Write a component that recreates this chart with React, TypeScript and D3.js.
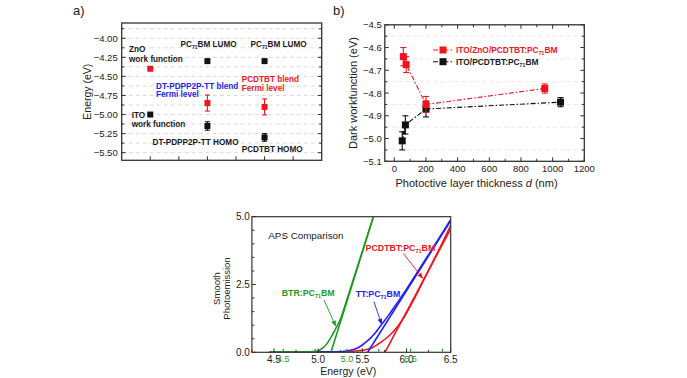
import React from 'react';
import * as d3 from 'd3';

const FONT = '"Liberation Sans", Arial, Helvetica, sans-serif';
const RED = '#f2141c';
const BLUE = '#2323f0';
const GREEN = '#1f9a1f';
const BLACK = '#111111';
const AXIS = '#333333';

// ---------- Panel a: energy levels ----------
const levelCols = [1, 1, 2, 3, 2, 3, 2, 3];
const levelVals = [-4.40, -5.00, -4.30, -4.30, -4.85, -4.90, -5.15, -5.30];
const levelErrs = [0, 0, 0, 0, 0.105, 0.105, 0.055, 0.05];
const levelIsFermi = [true, false, false, false, true, true, false, false];
const aYTicks = [-4.0, -4.25, -4.5, -4.75, -5.0, -5.25, -5.5];
const aGridVals = [-3.875, -4.0, -4.125, -4.25, -4.375, -4.5, -4.625, -4.75, -4.875, -5.0, -5.125, -5.25, -5.375, -5.5];
const aXTicks = [1, 1.5, 2, 2.5, 3, 3.5];

// ---------- Panel b: dark workfunction ----------
const znoThick = [57, 75, 200, 950];
const znoWf = [-4.64, -4.675, -4.85, -4.78];
const znoErr = [0.04, 0.035, 0.035, 0.02];
const itoThick = [50, 60, 70, 200, 1050];
const itoWf = [-5.01, -4.975, -4.94, -4.87, -4.84];
const itoErr = [0.04, 0, 0.04, 0.035, 0.02];
const bXTicks = [0, 200, 400, 600, 800, 1000, 1200];
const bYTicks = [-4.5, -4.6, -4.7, -4.8, -4.9, -5.0, -5.1];

// ---------- Panel c: APS comparison ----------
const btrE = [4.45, 4.9, 5.0, 5.05, 5.1, 5.15, 5.2, 5.25, 5.3, 5.4, 5.5, 5.63];
const btrP = [0.02, 0.02, 0.06, 0.15, 0.32, 0.58, 0.88, 1.2, 1.68, 2.7, 3.72, 5.05];
const btrFitE = [5.145, 5.63];
const btrFitP = [0, 5.05];
const ttE = [4.45, 5.2, 5.3, 5.4, 5.45, 5.5, 5.55, 5.6, 5.65, 5.7, 5.8, 5.9, 6.0, 6.2, 6.4, 6.5];
const ttP = [0.02, 0.02, 0.04, 0.1, 0.17, 0.27, 0.4, 0.55, 0.73, 0.95, 1.38, 1.85, 2.33, 3.35, 4.37, 4.9];
const ttFitE = [5.56, 6.5];
const ttFitP = [0, 4.85];
const pcdE = [4.45, 5.3, 5.4, 5.5, 5.6, 5.7, 5.8, 5.9, 6.0, 6.1, 6.2, 6.3, 6.4, 6.5];
const pcdP = [0.02, 0.02, 0.04, 0.07, 0.15, 0.35, 0.6, 0.95, 1.45, 2.05, 2.7, 3.35, 4.0, 4.68];
const pcdFitE = [5.756, 6.5];
const pcdFitP = [0, 4.55];
const cXTicks = [4.5, 5.0, 5.5, 6.0, 6.5];
const cYTicks = [0, 2.5, 5.0];
const greenTicks = [4.5, 5.0, 5.5];

function PC71(props: { pre?: string; post: string }) {
  return (
    <>
      <tspan>{(props.pre || '') + 'PC'}</tspan>
      <tspan dy={2} fontSize="0.62em">71</tspan>
      <tspan dy={-2}>{props.post}</tspan>
    </>
  );
}

function PanelA() {
  const x = d3.scaleLinear().domain([0.5, 4]).range([121.7, 321.7]);
  const y = d3.scaleLinear().domain([-5.6, -3.8]).range([160.3, 23]);
  const [x0, x1] = x.range();
  const [yb, yt] = y.range();
  const fmt = d3.format('.2f');
  const lab = { fontSize: 8.2, fontWeight: 700 as const };
  return (
    <g>
      {aGridVals.map((v) => (
        <line key={'g' + v} x1={x0} x2={x1} y1={y(v)} y2={y(v)} stroke="#cfcfcf" strokeWidth={0.8} strokeDasharray="4,3" />
      ))}
      <rect x={x0} y={yt} width={x1 - x0} height={yb - yt} fill="none" stroke={AXIS} strokeWidth={1.3} />
      {aGridVals.map((v) => {
        const major = aYTicks.includes(v);
        const l = major ? 4 : 2.5;
        return (
          <g key={'t' + v}>
            <line x1={x0} x2={x0 + l} y1={y(v)} y2={y(v)} stroke={AXIS} />
            <line x1={x1} x2={x1 - l} y1={y(v)} y2={y(v)} stroke={AXIS} />
          </g>
        );
      })}
      {aXTicks.map((v) => (
        <line key={'xt' + v} x1={x(v)} x2={x(v)} y1={yb} y2={yb - 4} stroke={AXIS} />
      ))}
      {aYTicks.map((v) => (
        <text key={'yl' + v} x={x0 - 4} y={y(v) + 3.5} fontSize={9.5} textAnchor="end" fill="#222">{fmt(v)}</text>
      ))}
      <text transform={`translate(${x0 - 31},${(yb + yt) / 2}) rotate(-90)`} fontSize={10.5} textAnchor="middle" fill="#222">Energy (eV)</text>
      <text x={73} y={15} fontSize={13} fill="#222">a)</text>
      {levelVals.map((v, i) => {
        const cx = x(levelCols[i]);
        const cy = y(v);
        const col = levelIsFermi[i] ? RED : BLACK;
        const e = levelErrs[i];
        return (
          <g key={'p' + i}>
            {e > 0 && (
              <g stroke={col} strokeWidth={1.1}>
                <line x1={cx} x2={cx} y1={y(v + e)} y2={y(v - e)} />
                <line x1={cx - 2.5} x2={cx + 2.5} y1={y(v + e)} y2={y(v + e)} />
                <line x1={cx - 2.5} x2={cx + 2.5} y1={y(v - e)} y2={y(v - e)} />
              </g>
            )}
            <rect x={cx - 3} y={cy - 3} width={6} height={6} fill={col} />
          </g>
        );
      })}
      <g {...lab} fill="#1a1a1a">
        <text x={x(0.628)} y={y(-4.18)}>ZnO</text>
        <text x={x(0.628)} y={y(-4.31)}>work function</text>
        <text x={x(0.675)} y={y(-5.04)}>ITO</text>
        <text x={x(0.675)} y={y(-5.165)}>work function</text>
        <text x={x(1.04)} y={y(-5.405)}>DT-PDPP2P-TT HOMO</text>
        <text x={x(2.6)} y={y(-5.495)}>PCDTBT HOMO</text>
        <text x={x(1.53)} y={y(-4.11)}><PC71 post="BM LUMO" /></text>
        <text x={x(2.755)} y={y(-4.11)}><PC71 post="BM LUMO" /></text>
      </g>
      <g {...lab} fill={BLUE}>
        <text x={x(1.1)} y={y(-4.665)}>DT-PDPP2P-TT blend</text>
        <text x={x(1.1)} y={y(-4.775)}>Fermi level</text>
      </g>
      <g {...lab} fill={RED}>
        <text x={x(2.6)} y={y(-4.575)}>PCDTBT blend</text>
        <text x={x(2.6)} y={y(-4.685)}>Fermi level</text>
      </g>
    </g>
  );
}

function Series(props: { xs: number[]; ys: number[]; es: number[]; x: any; y: any; color: string }) {
  const { xs, ys, es, x, y, color } = props;
  const line = d3.line<number>().x((_, i) => x(xs[i])).y((v) => y(v));
  return (
    <g>
      <path d={line(ys) || ''} fill="none" stroke={color} strokeWidth={1.1} strokeDasharray="5,2,1.5,2" />
      {ys.map((v, i) => {
        const cx = x(xs[i]);
        const cy = y(v);
        const e = es[i];
        const s = e > 0 ? 7 : 3;
        return (
          <g key={i}>
            {e > 0 && (
              <g stroke={color} strokeWidth={1.1}>
                <line x1={cx} x2={cx} y1={y(v + e)} y2={y(v - e)} />
                <line x1={cx - 3} x2={cx + 3} y1={y(v + e)} y2={y(v + e)} />
                <line x1={cx - 3} x2={cx + 3} y1={y(v - e)} y2={y(v - e)} />
              </g>
            )}
            <rect x={cx - s / 2} y={cy - s / 2} width={s} height={s} fill={color} />
          </g>
        );
      })}
    </g>
  );
}

function PanelB() {
  const x = d3.scaleLinear().domain([-60, 1200]).range([384.8, 584.3]);
  const y = d3.scaleLinear().domain([-5.1, -4.5]).range([161.3, 24.8]);
  const [x0, x1] = x.range();
  const [yb, yt] = y.range();
  const minorY = d3.range(0, 13).map((i) => -5.1 + i * 0.05);
  const minorX = d3.range(0, 13).map((i) => i * 100);
  return (
    <g>
      {minorY.map((v, i) => i % 2 === 1 && (
        <line key={'g' + i} x1={x0} x2={x1} y1={y(v)} y2={y(v)} stroke="#e2e2e2" strokeWidth={0.8} strokeDasharray="4,3" />
      ))}
      <rect x={x0} y={yt} width={x1 - x0} height={yb - yt} fill="none" stroke={AXIS} strokeWidth={1.3} />
      {minorY.map((v, i) => {
        const l = i % 2 === 0 ? 4 : 2.5;
        return (
          <g key={'yt' + i}>
            <line x1={x0} x2={x0 + l} y1={y(v)} y2={y(v)} stroke={AXIS} />
            <line x1={x1} x2={x1 - l} y1={y(v)} y2={y(v)} stroke={AXIS} />
          </g>
        );
      })}
      {minorX.map((v, i) => {
        const l = i % 2 === 0 ? 4 : 2.5;
        return (
          <g key={'xt' + i}>
            <line x1={x(v)} x2={x(v)} y1={yb} y2={yb - l} stroke={AXIS} />
            <line x1={x(v)} x2={x(v)} y1={yt} y2={yt + l} stroke={AXIS} />
          </g>
        );
      })}
      {bYTicks.map((v) => (
        <text key={'yl' + v} x={x0 - 3} y={y(v) + 3.5} fontSize={9.5} textAnchor="end" fill="#222">{d3.format('.1f')(v)}</text>
      ))}
      {bXTicks.map((v) => (
        <text key={'xl' + v} x={x(v)} y={yb + 11} fontSize={9.5} textAnchor="middle" fill="#222">{v}</text>
      ))}
      <text transform={`translate(${x0 - 28},${(yb + yt) / 2}) rotate(-90)`} fontSize={11} textAnchor="middle" fill="#222">Dark workfunction (eV)</text>
      <text x={(x0 + x1) / 2 - 8} y={yb + 26} fontSize={11} textAnchor="middle" fill="#222">
        Photoctive layer thickness <tspan fontStyle="italic">d</tspan> (nm)
      </text>
      <text x={333} y={15} fontSize={13} fill="#222">b)</text>
      <Series xs={itoThick} ys={itoWf} es={itoErr} x={x} y={y} color={BLACK} />
      <Series xs={znoThick} ys={znoWf} es={znoErr} x={x} y={y} color={RED} />
      <g>
        <line x1={433} x2={453} y1={50} y2={50} stroke={RED} strokeWidth={1.1} strokeDasharray="5,2,1.5,2" />
        <rect x={439.5} y={46.5} width={7} height={7} fill={RED} />
        <text x={456} y={53.3} fontSize={8.4} fontWeight={700} fill={RED}><PC71 pre="ITO/ZnO/PCDTBT:" post="BM" /></text>
        <line x1={433} x2={453} y1={61.7} y2={61.7} stroke={BLACK} strokeWidth={1.1} strokeDasharray="5,2,1.5,2" />
        <rect x={439.5} y={58.2} width={7} height={7} fill={BLACK} />
        <text x={456} y={65} fontSize={8.4} fontWeight={700} fill="#1a1a1a"><PC71 pre="ITO/PCDTBT:" post="BM" /></text>
      </g>
    </g>
  );
}

function PanelC() {
  const x = d3.scaleLinear().domain([4.25, 6.5]).range([251.9, 450.7]);
  const y = d3.scaleLinear().domain([0, 5]).range([352.3, 216.7]);
  const gx = d3.scaleLinear().domain([4.5, 5.5]).range([x(4.605), x(6.046)]);
  const [x0, x1] = x.range();
  const [yb, yt] = y.range();
  const curve = (es: number[], ps: number[]) =>
    d3.line<number>().x((_, i) => x(es[i])).y((p) => y(p)).curve(d3.curveMonotoneX)(ps) || '';
  const straight = (es: number[], ps: number[]) =>
    d3.line<number>().x((_, i) => x(es[i])).y((p) => y(p))(ps) || '';
  const xMinor = d3.range(0, 10).map((i) => 4.25 + i * 0.25);
  const yMinor = d3.range(0, 11).map((i) => i * 0.5);
  const gMinor = d3.range(0, 6).map((i) => 4.5 + i * 0.25);
  return (
    <g>
      <defs>
        <clipPath id="clipC"><rect x={x0} y={yt} width={x1 - x0} height={yb - yt} /></clipPath>
        {[['aG', GREEN], ['aB', BLUE], ['aR', RED]].map(([id, c]) => (
          <marker key={id} id={id} viewBox="0 0 10 10" refX={9} refY={5} markerWidth={6} markerHeight={6} markerUnits="userSpaceOnUse" orient="auto">
            <path d="M0,1 L10,5 L0,9 z" fill={c} />
          </marker>
        ))}
      </defs>
      <g clipPath="url(#clipC)" fill="none" strokeWidth={1.6}>
        <path d={curve(pcdE, pcdP)} stroke={RED} />
        <path d={straight(pcdFitE, pcdFitP)} stroke={RED} />
        <path d={curve(ttE, ttP)} stroke={BLUE} />
        <path d={straight(ttFitE, ttFitP)} stroke={BLUE} />
        <path d={curve(btrE, btrP)} stroke={GREEN} />
        <path d={straight(btrFitE, btrFitP)} stroke={GREEN} />
      </g>
      <rect x={x0} y={yt} width={x1 - x0} height={yb - yt} fill="none" stroke={AXIS} strokeWidth={1.2} />
      {xMinor.map((v, i) => (
        <line key={'xt' + i} x1={x(v)} x2={x(v)} y1={yb} y2={yb - (i % 2 === 1 ? 4 : 2.5)} stroke={AXIS} />
      ))}
      {yMinor.map((v, i) => (
        <line key={'yt' + i} x1={x0} x2={x0 + (i % 5 === 0 ? 4 : 2.5)} y1={y(v)} y2={y(v)} stroke={AXIS} />
      ))}
      {gMinor.map((v, i) => (
        <line key={'gt' + i} x1={gx(v)} x2={gx(v)} y1={yb - 0.5} y2={yb - 3.5} stroke={GREEN} strokeWidth={1.2} />
      ))}
      {cXTicks.map((v) => (
        <text key={'xl' + v} x={x(v)} y={yb + 11} fontSize={10} textAnchor="middle" fill="#222">{d3.format('.1f')(v)}</text>
      ))}
      {greenTicks.map((v) => (
        <text key={'gl' + v} x={gx(v)} y={yb + 9.5} fontSize={9} textAnchor="middle" fill={GREEN}>{d3.format('.1f')(v)}</text>
      ))}
      {cYTicks.map((v) => (
        <text key={'yl' + v} x={x0 - 2} y={y(v) + 3.5} fontSize={10} textAnchor="end" fill="#222">{d3.format('.1f')(v)}</text>
      ))}
      <text x={(x0 + x1) / 2 - 3} y={yb + 23} fontSize={10.5} textAnchor="middle" fill="#222">Energy (eV)</text>
      <text transform={`translate(${x0 - 32},${(yb + yt) / 2 + 4}) rotate(-90)`} fontSize={9.5} textAnchor="middle" fill="#222">Smooth</text>
      <text transform={`translate(${x0 - 22},${(yb + yt) / 2 + 4}) rotate(-90)`} fontSize={9.5} textAnchor="middle" fill="#222">Photoemission</text>
      <text x={x(4.436)} y={y(4.18)} fontSize={9.8} fill="#222">APS Comparison</text>
      <text x={x(4.587)} y={y(2.08)} fontSize={8.8} fontWeight={700} fill={GREEN}><PC71 pre="BTR:" post="BM" /></text>
      <text x={x(5.424)} y={y(2.04)} fontSize={8.8} fontWeight={700} fill={BLUE}><PC71 pre="TT:" post="BM" /></text>
      <text x={x(5.537)} y={y(3.73)} fontSize={8.8} fontWeight={700} fill={RED}><PC71 pre="PCDTBT:" post="BM" /></text>
      <line x1={x(5.066)} y1={y(1.93)} x2={x(5.198)} y2={y(0.97)} stroke={GREEN} strokeWidth={0.9} markerEnd="url(#aG)" />
      <line x1={x(5.631)} y1={y(1.87)} x2={x(5.718)} y2={y(1.04)} stroke={BLUE} strokeWidth={0.9} markerEnd="url(#aB)" />
      <line x1={x(5.963)} y1={y(3.65)} x2={x(6.182)} y2={y(2.73)} stroke={RED} strokeWidth={0.9} markerEnd="url(#aR)" />
    </g>
  );
}

export default function App() {
  return (
    <svg width={687} height={378} style={{ position: 'absolute', left: 0, top: 0, background: '#fff' }} fontFamily={FONT}>
      <rect x={0} y={0} width={687} height={378} fill="#fff" />
      <PanelA />
      <PanelB />
      <PanelC />
    </svg>
  );
}
